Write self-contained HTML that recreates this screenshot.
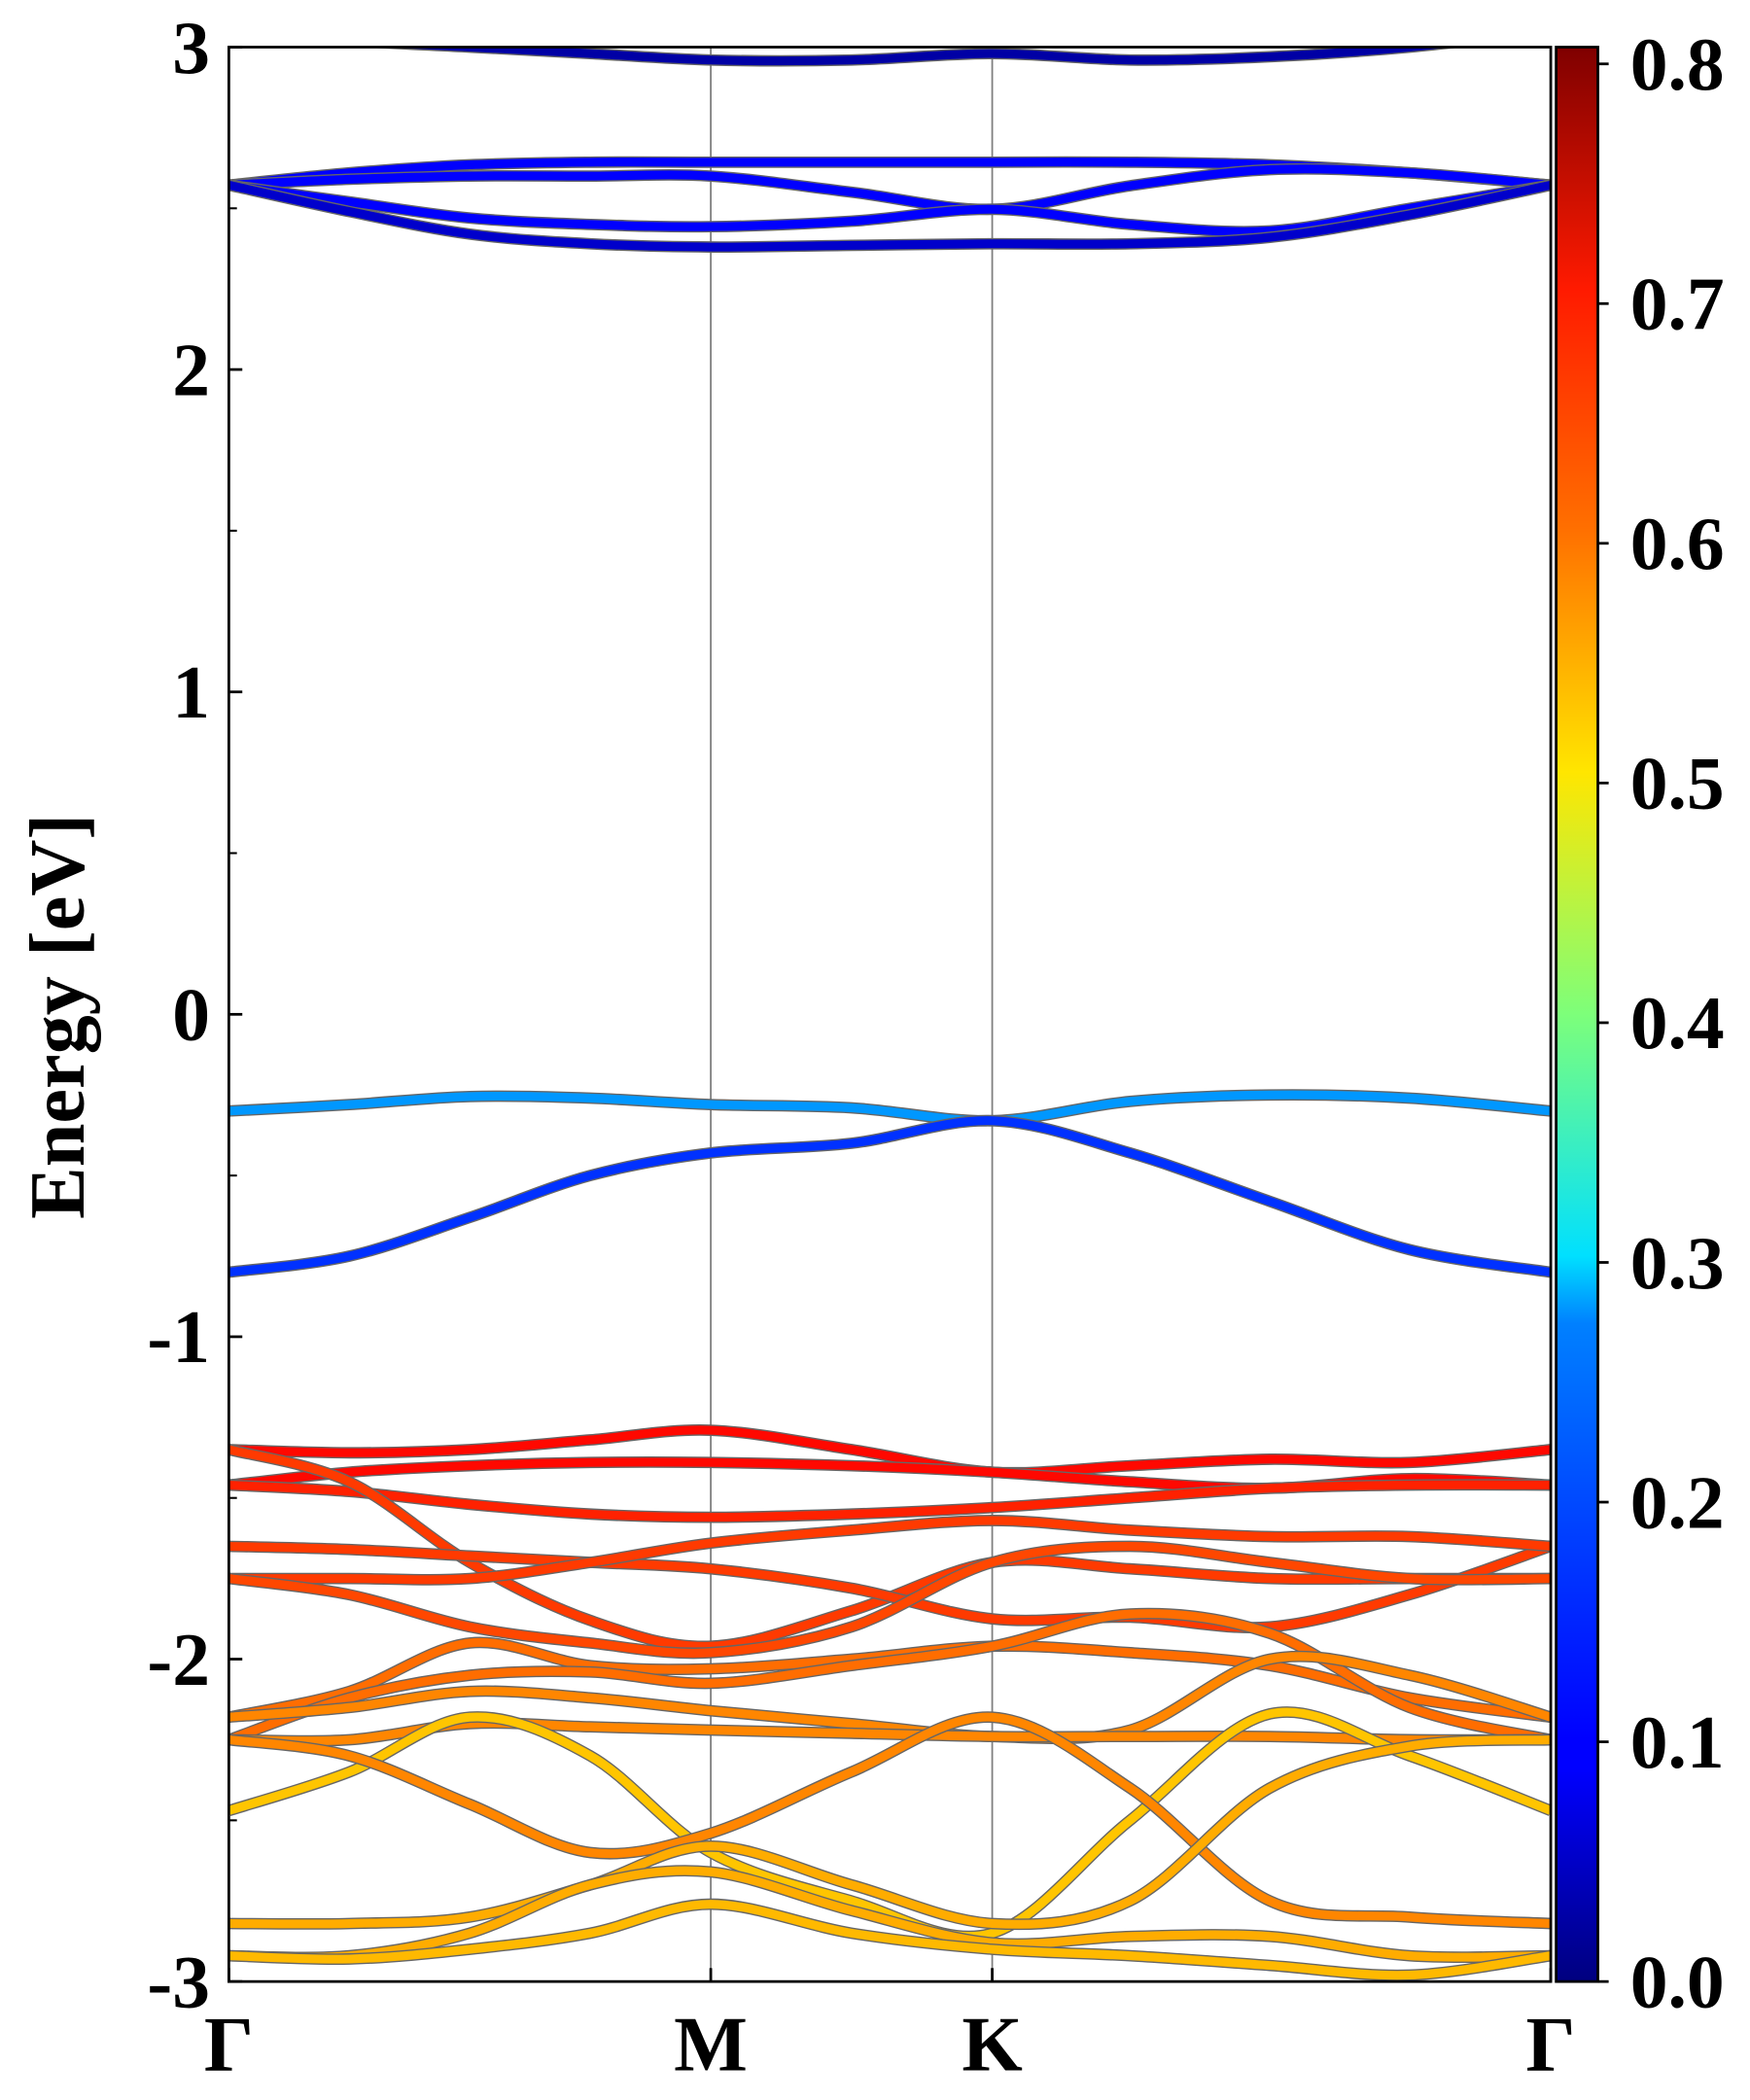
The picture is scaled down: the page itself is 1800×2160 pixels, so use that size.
<!DOCTYPE html>
<html><head><meta charset="utf-8"><style>
html,body{margin:0;padding:0;background:#fff;}
svg{display:block;font-family:"Liberation Serif",serif;font-weight:bold;}
</style></head><body>
<svg id="chart" width="1800" height="2160" viewBox="0 0 1300 1560" xmlns="http://www.w3.org/2000/svg">
<defs>
<linearGradient id="jet" x1="0" y1="1" x2="0" y2="0">
<stop offset="0" stop-color="#00007f"/><stop offset="0.11" stop-color="#0000ff"/><stop offset="0.125" stop-color="#0000ff"/>
<stop offset="0.34" stop-color="#0080ff"/><stop offset="0.375" stop-color="#00e0ff"/><stop offset="0.5" stop-color="#7dff7a"/>
<stop offset="0.625" stop-color="#ffe600"/><stop offset="0.75" stop-color="#ff7000"/><stop offset="0.875" stop-color="#ff1a00"/>
<stop offset="1" stop-color="#7f0000"/></linearGradient>
<clipPath id="plotclip"><rect x="170" y="35" width="982" height="1437"/></clipPath>
</defs>
<g id="bands" clip-path="url(#plotclip)"></g>
<g id="axes"></g>
</svg>
<script>
const kLabels = ["Γ","M","K","Γ"];
const kNodes = [0, 1, 1.584, 2.743];
const kSamples = [0,0.25,0.5,0.75,1,1.292,1.584,1.87,2.16,2.45,2.743];
const yTicks = [-3,-2,-1,0,1,2,3];
const cbTicks = [0.0,0.1,0.2,0.3,0.4,0.5,0.6,0.7,0.8];
const bandWeights = [0.03,0.1,0.1,0.1,0.06,0.22,0.14,0.7,0.7,0.68,0.66,0.66,0.66,0.65,0.62,0.62,0.6,0.6,0.55,0.6,0.57,0.57,0.56];
const bandEnergies = [
 [3.05,3.02,3.0,2.98,2.96,2.96,2.98,2.96,2.97,3.0,3.05],
 [2.572,2.61,2.635,2.643,2.643,2.643,2.643,2.643,2.635,2.61,2.572],
 [2.572,2.59,2.60,2.60,2.60,2.55,2.497,2.57,2.62,2.61,2.572],
 [2.572,2.52,2.47,2.45,2.443,2.46,2.497,2.45,2.43,2.50,2.572],
 [2.572,2.49,2.42,2.39,2.38,2.385,2.39,2.39,2.41,2.48,2.572],
 [-0.30,-0.28,-0.255,-0.26,-0.28,-0.29,-0.33,-0.27,-0.25,-0.26,-0.30],
 [-0.80,-0.75,-0.63,-0.50,-0.43,-0.40,-0.33,-0.43,-0.58,-0.73,-0.80],
 [-1.35,-1.36,-1.35,-1.32,-1.29,-1.35,-1.42,-1.40,-1.38,-1.39,-1.35],
 [-1.46,-1.42,-1.40,-1.39,-1.39,-1.40,-1.42,-1.45,-1.47,-1.44,-1.46],
 [-1.46,-1.48,-1.52,-1.55,-1.56,-1.55,-1.53,-1.50,-1.47,-1.46,-1.46],
 [-1.35,-1.45,-1.70,-1.88,-1.96,-1.85,-1.70,-1.72,-1.75,-1.75,-1.75],
 [-1.65,-1.66,-1.68,-1.70,-1.72,-1.78,-1.875,-1.87,-1.90,-1.80,-1.65],
 [-1.75,-1.75,-1.75,-1.70,-1.64,-1.60,-1.57,-1.60,-1.62,-1.62,-1.65],
 [-1.75,-1.80,-1.90,-1.95,-1.98,-1.90,-1.70,-1.65,-1.70,-1.75,-1.75],
 [-2.18,-2.10,-1.95,-2.02,-2.03,-2.00,-1.96,-1.98,-2.02,-2.12,-2.18],
 [-2.25,-2.12,-2.05,-2.04,-2.075,-2.02,-1.96,-1.86,-1.92,-2.15,-2.25],
 [-2.18,-2.15,-2.10,-2.12,-2.16,-2.20,-2.24,-2.22,-2.00,-2.05,-2.18],
 [-2.25,-2.25,-2.20,-2.21,-2.22,-2.23,-2.24,-2.24,-2.24,-2.25,-2.25],
 [-2.47,-2.35,-2.18,-2.30,-2.60,-2.75,-2.85,-2.50,-2.17,-2.30,-2.47],
 [-2.25,-2.30,-2.45,-2.60,-2.54,-2.35,-2.18,-2.40,-2.75,-2.80,-2.82],
 [-2.82,-2.82,-2.80,-2.70,-2.58,-2.70,-2.82,-2.75,-2.40,-2.27,-2.25],
 [-2.92,-2.92,-2.85,-2.70,-2.66,-2.78,-2.88,-2.86,-2.86,-2.92,-2.92],
 [-2.92,-2.93,-2.90,-2.85,-2.76,-2.85,-2.90,-2.92,-2.95,-2.98,-2.92]
];
const NS="http://www.w3.org/2000/svg";
const X0=170,X1=1152,Y0=1472,Y1=35,EMIN=-3,EMAX=3,CMAX=0.807;
const xs=k=>X0+(k/kNodes[3])*(X1-X0);
const ys=e=>Y0-(e-EMIN)/(EMAX-EMIN)*(Y0-Y1);
function jet(v){v=Math.max(0,Math.min(1,v/CMAX));
 const r=Math.max(0,Math.min(1,1.5-Math.abs(4*v-3))),g=Math.max(0,Math.min(1,1.5-Math.abs(4*v-2))),b=Math.max(0,Math.min(1,1.5-Math.abs(4*v-1)));
 return `rgb(${Math.round(r*255)},${Math.round(g*255)},${Math.round(b*255)})`;}
function mk(tag,attrs,parent){const el=document.createElementNS(NS,tag);for(const a in attrs)el.setAttribute(a,attrs[a]);parent.appendChild(el);return el;}
function pathD(pts){let d=`M${pts[0][0]},${pts[0][1]}`;
 for(let i=0;i<pts.length-1;i++){const p0=pts[Math.max(0,i-1)],p1=pts[i],p2=pts[i+1],p3=pts[Math.min(pts.length-1,i+2)];
  d+=` C${p1[0]+(p2[0]-p0[0])/6},${p1[1]+(p2[1]-p0[1])/6} ${p2[0]-(p3[0]-p1[0])/6},${p2[1]-(p3[1]-p1[1])/6} ${p2[0]},${p2[1]}`;}
 return d;}
const bands=document.getElementById('bands'),axes=document.getElementById('axes');
kNodes.slice(1,3).forEach(k=>{const l=mk('line',{x1:xs(k),x2:xs(k),y1:Y1,y2:Y0,stroke:'#808080','stroke-width':1.3},bands);
 
 });
bandEnergies.forEach((band,i)=>{const pts=band.map((e,j)=>[xs(kSamples[j]),ys(e)]);const d=pathD(pts);
 const o=mk('path',{d:d,fill:'none',stroke:'#666','stroke-width':8.5},bands);
 
 
 const p=mk('path',{d:d,fill:'none',stroke:jet(bandWeights[i]),'stroke-width':6.5},bands);
 
 });
const fr=mk('rect',{x:X0,y:Y1,width:X1-X0,height:Y0-Y1,fill:'none',stroke:'#000','stroke-width':2},axes);


yTicks.forEach(t=>{const y=ys(t);
 const tk=mk('line',{x1:X0,x2:X0+10,y1:y,y2:y,stroke:'#000','stroke-width':2},axes);
 
 
 const tx=mk('text',{x:X0-14,y:y+19,'text-anchor':'end','font-size':56},axes);tx.textContent=String(t);
 
 
 if(t<3){const m=mk('line',{x1:X0,x2:X0+6,y1:ys(t+0.5),y2:ys(t+0.5),stroke:'#000','stroke-width':1.5},axes);
  
  }});
kNodes.forEach((k,i)=>{const x=xs(k);
 const tk=mk('line',{x1:x,x2:x,y1:Y0,y2:Y0-10,stroke:'#000','stroke-width':2},axes);
 
 
 const tx=mk('text',{x:x,y:Y0+66,'text-anchor':'middle','font-size':58},axes);tx.textContent=kLabels[i];
 
 });
const yl=mk('text',{x:0,y:0,transform:'translate(62,755) rotate(-90)','text-anchor':'middle','font-size':58},axes);yl.textContent='Energy [eV]';


const CB0=1156,CBW=31;
const cb=mk('rect',{x:CB0,y:Y1,width:CBW,height:Y0-Y1,fill:'url(#jet)',stroke:'#000','stroke-width':2},axes);


cbTicks.forEach(t=>{const y=Y0-t/CMAX*(Y0-Y1);
 const tk=mk('line',{x1:CB0+CBW,x2:CB0+CBW+8,y1:y,y2:y,stroke:'#000','stroke-width':2},axes);
 
 
 const tx=mk('text',{x:CB0+CBW+24,y:y+19,'font-size':56},axes);tx.textContent=t.toFixed(1);
 
 });
</script>
</body></html>
